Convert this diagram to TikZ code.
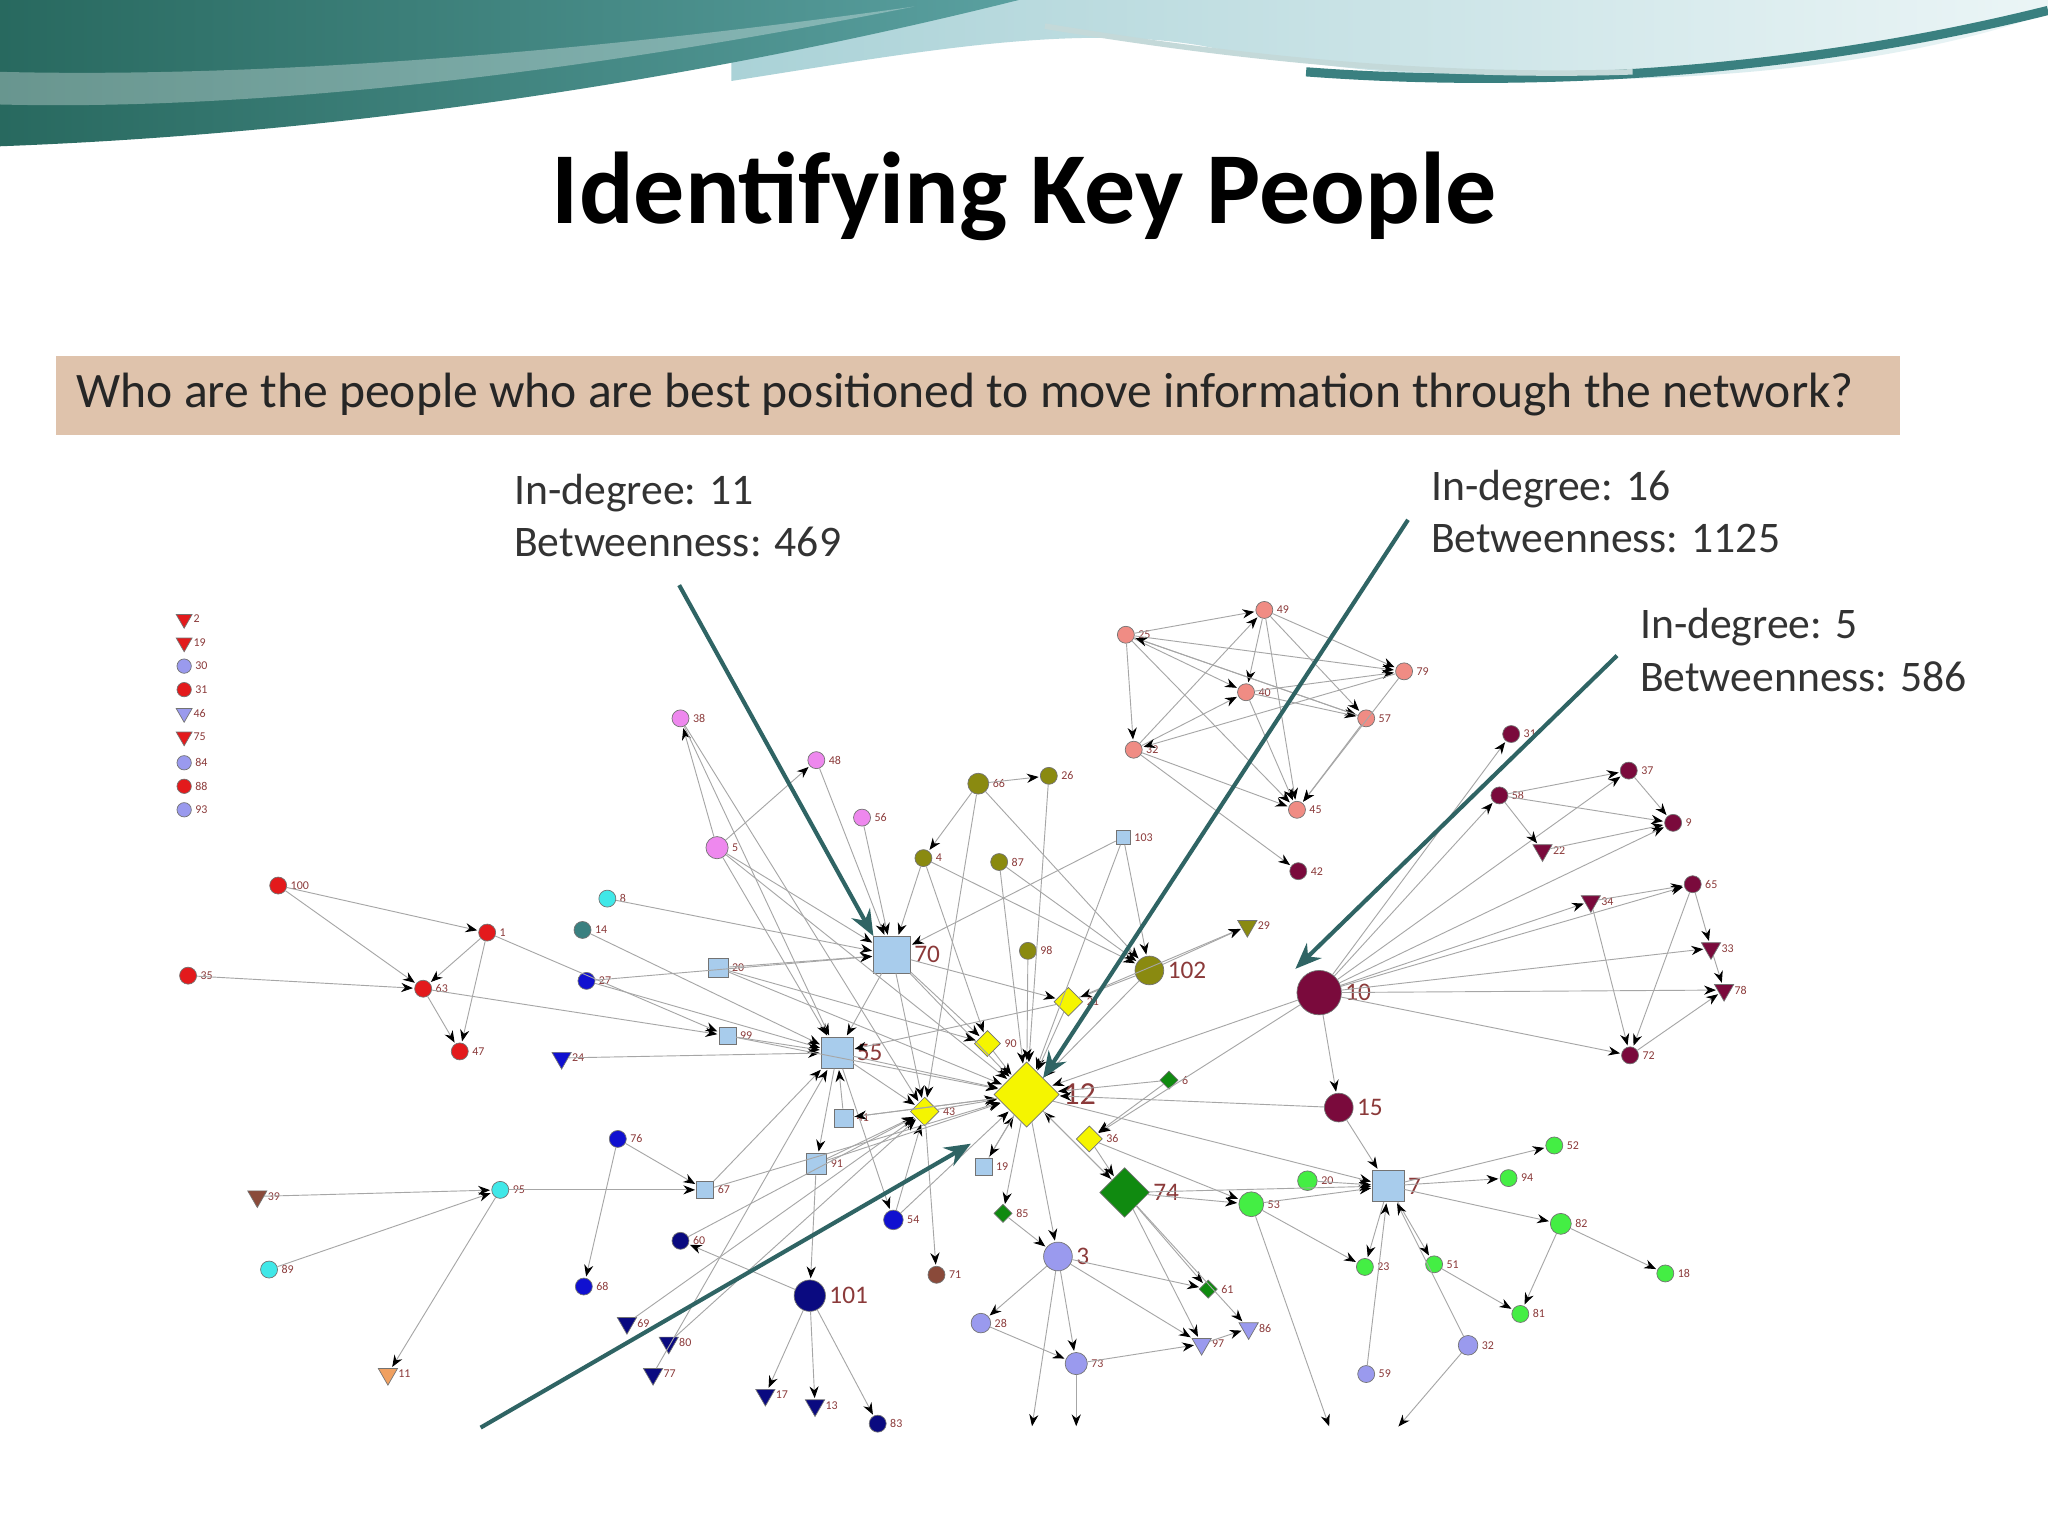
\documentclass[tikz,border=0pt]{standalone}
\usepackage{fontspec}
\setmainfont{Carlito}
\usetikzlibrary{arrows.meta,shapes.geometric}
\definecolor{redn}{HTML}{E31A1C}
\definecolor{salm}{HTML}{F08C84}
\definecolor{maro}{HTML}{7A0A3C}
\definecolor{pink}{HTML}{EE88EE}
\definecolor{oliv}{HTML}{8A8A10}
\definecolor{lblu}{HTML}{A8CCEC}
\definecolor{yell}{HTML}{F5F500}
\definecolor{dgrn}{HTML}{108A10}
\definecolor{lgrn}{HTML}{44EE44}
\definecolor{lav}{HTML}{9A9AEE}
\definecolor{blu}{HTML}{1010D0}
\definecolor{navy}{HTML}{0A0A80}
\definecolor{cyn}{HTML}{40E8E8}
\definecolor{tealn}{HTML}{3A8080}
\definecolor{brwn}{HTML}{8A4A3A}
\definecolor{orng}{HTML}{F0A060}
\definecolor{labc}{HTML}{8B3A3A}
\definecolor{annc}{HTML}{2F6464}
\definecolor{band}{HTML}{DFC3AC}
\tikzset{
 x=0.01cm,y=-0.01cm,
 base/.style={draw=black!55,line width=0.15pt,inner sep=0pt,minimum size=0.13cm},
 cir/.style={base,circle},
 sq/.style={base,rectangle},
 dia/.style={base,diamond},
 tri/.style={base,regular polygon,regular polygon sides=3,shape border rotate=180,minimum size=0.17cm},
 lab/.style={font=\fontsize{2.6}{3}\selectfont,text=labc,inner sep=0.6pt},
 labB/.style={font=\fontsize{5.5}{6}\selectfont,text=labc,inner sep=0.6pt},
 ed/.style={-{Stealth[length=0.09cm,width=0.07cm,color=black]},draw=black!35,line width=0.2pt,shorten >=0.3pt},
 ann/.style={-{Stealth[length=0.2cm,width=0.16cm]},draw=annc,line width=0.9pt},
 anntxt/.style={font=\fontsize{9.5}{11.5}\selectfont,text=black!80,align=left,anchor=north west,inner sep=0pt},
}
\begin{document}
\begin{tikzpicture}
\useasboundingbox (0,0) rectangle (1568,1176);
\fill[white] (0,0) rectangle (1568,1176);
% banner
\shade[left color={rgb,255:red,170;green,210;blue,215},right color={rgb,255:red,235;green,245;blue,246}] (560,0) -- (1568,0) -- (1568,10) .. controls (1400,70) and (1120,75) .. (920,35) .. controls (820,18) and (700,40) .. (560,62) -- cycle;
\shade[left color={rgb,255:red,40;green,105;blue,95},right color={rgb,255:red,90;green,160;blue,160}] (0,0) -- (780,0) .. controls (600,45) and (320,100) .. (0,112) -- cycle;
\fill[white,opacity=0.3] (0,55) .. controls (200,60) and (450,40) .. (700,5) .. controls (450,55) and (200,85) .. (0,80) -- cycle;
\draw[tealn,line width=2pt] (1000,55) .. controls (1200,70) and (1400,50) .. (1568,8);
\draw[white!70!tealn,line width=1.2pt] (800,20) .. controls (950,45) and (1100,60) .. (1250,55);
% title
\node[font=\bfseries\fontsize{22.2}{26}\selectfont] (title) at (784,150) {Identifying Key People};
\node[fill=band,minimum width=14.11cm,minimum height=0.6cm,anchor=north west,inner sep=0pt] (band) at (42,272) {};
\node[anchor=west,font=\fontsize{10.8}{12}\selectfont,text=black!85,inner sep=0pt] (q) at (58,302) {Who are the people who are best positioned to move information through the network?};
\node[anntxt] (t1) at (393,362) {In-degree: 11\\Betweenness: 469};
\node[anntxt] (t2) at (1095,359) {In-degree: 16\\Betweenness: 1125};
\node[anntxt] (t3) at (1255,465) {In-degree: 5\\Betweenness: 586};
% legend
\node[tri,fill=redn,minimum size=0.14cm,label={[lab]right:2}] (L1) at (141,474) {};
\node[tri,fill=redn,minimum size=0.14cm,label={[lab]right:19}] (L2) at (141,492) {};
\node[cir,fill=lav,minimum size=0.11cm,label={[lab]right:30}] (L3) at (141,510) {};
\node[cir,fill=redn,minimum size=0.11cm,label={[lab]right:31}] (L4) at (141,528) {};
\node[tri,fill=lav,minimum size=0.14cm,label={[lab]right:46}] (L5) at (141,546) {};
\node[tri,fill=redn,minimum size=0.14cm,label={[lab]right:75}] (L6) at (141,564) {};
\node[cir,fill=lav,minimum size=0.11cm,label={[lab]right:84}] (L7) at (141,584) {};
\node[cir,fill=redn,minimum size=0.11cm,label={[lab]right:88}] (L8) at (141,602) {};
\node[cir,fill=lav,minimum size=0.11cm,label={[lab]right:93}] (L9) at (141,620) {};
% nodes red
\node[cir,fill=redn,label={[lab]right:100}] (n100) at (213,678) {};
\node[cir,fill=redn,label={[lab]right:35}] (n35) at (144,747) {};
\node[cir,fill=redn,label={[lab]right:1}] (n1) at (373,714) {};
\node[cir,fill=redn,label={[lab]right:63}] (n63) at (324,757) {};
\node[cir,fill=redn,label={[lab]right:47}] (n47) at (352,805) {};
% salmon
\node[cir,fill=salm,label={[lab]right:25}] (n25) at (862,486) {};
\node[cir,fill=salm,label={[lab]right:49}] (n49) at (968,467) {};
\node[cir,fill=salm,label={[lab]right:79}] (n79) at (1075,514) {};
\node[cir,fill=salm,label={[lab]right:40}] (n40) at (954,530) {};
\node[cir,fill=salm,label={[lab]right:57}] (n57) at (1046,550) {};
\node[cir,fill=salm,label={[lab]right:32}] (n32a) at (868,574) {};
\node[cir,fill=salm,label={[lab]right:45}] (n45) at (993,620) {};
% maroon
\node[cir,fill=maro,label={[lab]right:31}] (n31) at (1157,562) {};
\node[cir,fill=maro,label={[lab]right:37}] (n37) at (1247,590) {};
\node[cir,fill=maro,label={[lab]right:58}] (n58) at (1148,609) {};
\node[cir,fill=maro,label={[lab]right:9}] (n9) at (1281,630) {};
\node[tri,fill=maro,label={[lab]right:22}] (n22) at (1181,651) {};
\node[cir,fill=maro,label={[lab]right:42}] (n42) at (994,667) {};
\node[cir,fill=maro,label={[lab]right:65}] (n65) at (1296,677) {};
\node[tri,fill=maro,label={[lab]right:34}] (n34) at (1218,690) {};
\node[tri,fill=maro,label={[lab]right:33}] (n33) at (1310,726) {};
\node[tri,fill=maro,label={[lab]right:78}] (n78) at (1320,758) {};
\node[cir,fill=maro,label={[lab]right:72}] (n72) at (1248,808) {};
\node[cir,fill=maro,minimum size=0.34cm,label={[labB]right:10}] (n10) at (1010,760) {};
\node[cir,fill=maro,minimum size=0.22cm,label={[labB]right:15}] (n15) at (1025,848) {};
% pink
\node[cir,fill=pink,label={[lab]right:38}] (n38) at (521,550) {};
\node[cir,fill=pink,label={[lab]right:48}] (n48) at (625,582) {};
\node[cir,fill=pink,label={[lab]right:56}] (n56) at (660,626) {};
\node[cir,fill=pink,minimum size=0.17cm,label={[lab]right:5}] (n5) at (549,649) {};
% olive
\node[cir,fill=oliv,minimum size=0.16cm,label={[lab]right:66}] (n66) at (749,600) {};
\node[cir,fill=oliv,label={[lab]right:26}] (n26) at (803,594) {};
\node[cir,fill=oliv,label={[lab]right:4}] (n4) at (707,657) {};
\node[cir,fill=oliv,label={[lab]right:87}] (n87) at (765,660) {};
\node[cir,fill=oliv,label={[lab]right:98}] (n98) at (787,728) {};
\node[cir,fill=oliv,minimum size=0.22cm,label={[labB]right:102}] (n102) at (880,743) {};
\node[tri,fill=oliv,label={[lab]right:29}] (n29) at (955,709) {};
% light blue squares
\node[sq,fill=lblu,minimum size=0.11cm,label={[lab]right:103}] (n103) at (860,641) {};
\node[sq,fill=lblu,minimum size=0.28cm,label={[labB]right:70}] (n70) at (683,731) {};
\node[sq,fill=lblu,minimum size=0.15cm,label={[lab]right:20}] (n20) at (550,741) {};
\node[sq,fill=lblu,minimum size=0.13cm,label={[lab]right:99}] (n99) at (557,793) {};
\node[sq,fill=lblu,minimum size=0.24cm,label={[labB]right:55}] (n55) at (641,806) {};
\node[sq,fill=lblu,minimum size=0.14cm,label={[lab]right:41}] (n41) at (646,856) {};
\node[sq,fill=lblu,minimum size=0.16cm,label={[lab]right:91}] (n91) at (625,891) {};
\node[sq,fill=lblu,minimum size=0.13cm,label={[lab]right:67}] (n67) at (540,911) {};
\node[sq,fill=lblu,minimum size=0.13cm,label={[lab]right:19}] (n19) at (753,893) {};
\node[sq,fill=lblu,minimum size=0.24cm,label={[labB]right:7}] (n7) at (1063,908) {};
% yellow diamonds
\node[dia,fill=yell,minimum size=0.22cm,label={[lab]right:21}] (n21) at (818,767) {};
\node[dia,fill=yell,minimum size=0.2cm,label={[lab]right:90}] (n90) at (756,799) {};
\node[dia,fill=yell,minimum size=0.5cm,label={[font=\fontsize{7}{8}\selectfont,text=labc,inner sep=0.6pt]right:12}] (n12) at (786,838) {};
\node[dia,fill=yell,minimum size=0.22cm,label={[lab]right:43}] (n43) at (708,851) {};
\node[dia,fill=yell,minimum size=0.2cm,label={[lab]right:36}] (n36) at (834,872) {};
% dark green
\node[dia,fill=dgrn,minimum size=0.14cm,label={[lab]right:6}] (n6) at (895,827) {};
\node[dia,fill=dgrn,minimum size=0.38cm,label={[labB]right:74}] (n74) at (861,913) {};
\node[dia,fill=dgrn,minimum size=0.14cm,label={[lab]right:85}] (n85) at (768,929) {};
\node[dia,fill=dgrn,minimum size=0.14cm,label={[lab]right:61}] (n61) at (925,987) {};
% light green
\node[cir,fill=lgrn,minimum size=0.19cm,label={[lab]right:53}] (n53) at (958,922) {};
\node[cir,fill=lgrn,minimum size=0.15cm,label={[lab]right:20}] (n20b) at (1001,904) {};
\node[cir,fill=lgrn,label={[lab]right:52}] (n52) at (1190,877) {};
\node[cir,fill=lgrn,label={[lab]right:94}] (n94) at (1155,902) {};
\node[cir,fill=lgrn,minimum size=0.16cm,label={[lab]right:82}] (n82) at (1195,937) {};
\node[cir,fill=lgrn,label={[lab]right:18}] (n18) at (1275,975) {};
\node[cir,fill=lgrn,label={[lab]right:81}] (n81) at (1164,1006) {};
\node[cir,fill=lgrn,label={[lab]right:23}] (n23) at (1045,970) {};
\node[cir,fill=lgrn,label={[lab]right:51}] (n51) at (1098,968) {};
% lavender
\node[cir,fill=lav,minimum size=0.22cm,label={[labB]right:3}] (n3) at (810,962) {};
\node[cir,fill=lav,minimum size=0.15cm,label={[lab]right:28}] (n28) at (751,1013) {};
\node[cir,fill=lav,minimum size=0.17cm,label={[lab]right:73}] (n73) at (824,1044) {};
\node[tri,fill=lav,label={[lab]right:97}] (n97) at (920,1029) {};
\node[tri,fill=lav,label={[lab]right:86}] (n86) at (956,1017) {};
\node[cir,fill=lav,label={[lab]right:59}] (n59) at (1046,1052) {};
\node[cir,fill=lav,minimum size=0.15cm,label={[lab]right:32}] (n32) at (1124,1030) {};
% blue
\node[cir,fill=blu,label={[lab]right:27}] (n27) at (449,751) {};
\node[tri,fill=blu,label={[lab]right:24}] (n24) at (430,810) {};
\node[cir,fill=blu,label={[lab]right:76}] (n76) at (473,872) {};
\node[cir,fill=blu,minimum size=0.15cm,label={[lab]right:54}] (n54) at (684,934) {};
\node[cir,fill=blu,label={[lab]right:68}] (n68) at (447,985) {};
% navy
\node[cir,fill=navy,label={[lab]right:60}] (n60) at (521,950) {};
\node[cir,fill=navy,minimum size=0.24cm,label={[labB]right:101}] (n101) at (620,992) {};
\node[tri,fill=navy,label={[lab]right:17}] (n17) at (586,1068) {};
\node[tri,fill=navy,label={[lab]right:13}] (n13) at (624,1076) {};
\node[cir,fill=navy,label={[lab]right:83}] (n83) at (672,1090) {};
\node[tri,fill=navy,label={[lab]right:69}] (n69) at (480,1013) {};
\node[tri,fill=navy,label={[lab]right:80}] (n80) at (512,1028) {};
\node[tri,fill=navy,label={[lab]right:77}] (n77) at (500,1052) {};
% misc
\node[cir,fill=cyn,label={[lab]right:8}] (n8) at (465,688) {};
\node[cir,fill=cyn,label={[lab]right:95}] (n95) at (383,911) {};
\node[cir,fill=cyn,label={[lab]right:89}] (n89) at (206,972) {};
\node[cir,fill=tealn,label={[lab]right:14}] (n14) at (446,712) {};
\node[cir,fill=brwn,label={[lab]right:71}] (n71) at (717,976) {};
\node[tri,fill=orng,label={[lab]right:11}] (n11) at (297,1052) {};
\node[tri,fill=brwn,label={[lab]right:39}] (n39) at (197,916) {};
\coordinate (b1) at (790,1093);
\coordinate (b2) at (824,1093);
\coordinate (b3) at (1018,1093);
\coordinate (b4) at (1070,1093);
% edges
\foreach \a/\b in {n100/n63,n35/n63,n1/n63,n63/n47,n1/n47,n100/n1,n63/n99,n1/n99,
 n89/n95,n95/n67,n95/n11,n39/n95,n8/n70,n14/n55,n27/n55,n24/n55,n76/n68,n76/n67,n27/n70,
 n5/n38,n5/n48,n5/n70,n5/n55,n38/n55,n48/n70,n56/n70,n5/n12,n38/n43,
 n66/n4,n66/n26,n26/n12,n4/n70,n87/n12,n98/n12,n66/n102,n4/n102,n87/n102,n102/n12,n66/n43,n4/n90,
 n102/n29,n21/n29,
 n25/n49,n25/n79,n25/n40,n25/n57,n25/n32a,n49/n79,n49/n40,n49/n57,n49/n45,n40/n79,n40/n57,n40/n45,
 n32a/n40,n32a/n49,n32a/n45,n57/n45,n79/n45,n79/n32a,n57/n25,n32a/n42,n25/n45,
 n10/n31,n10/n58,n10/n37,n10/n9,n10/n65,n10/n34,n10/n33,n10/n78,n10/n72,n10/n15,
 n58/n22,n58/n37,n37/n9,n22/n9,n65/n33,n34/n65,n34/n72,n72/n78,n65/n72,n33/n78,n58/n9,
 n10/n12,n15/n7,n15/n12,n10/n36,
 n20/n70,n20/n12,n99/n55,n55/n12,n70/n12,n70/n90,n70/n43,n41/n12,n91/n43,n67/n55,n19/n12,
 n103/n12,n103/n70,n103/n102,n55/n43,n99/n12,n41/n55,n91/n101,n67/n12,n20/n90,n70/n21,n102/n21,
 n74/n53,n53/n7,n7/n52,n7/n94,n7/n82,n7/n23,n7/n51,n82/n81,n82/n18,n51/n81,n74/n61,n74/n12,
 n6/n12,n74/n7,n20b/n7,n53/n23,n36/n74,n12/n74,n12/n7,n36/n53,n21/n12,n90/n12,n43/n12,
 n3/n28,n3/n73,n3/n97,n74/n97,n73/n97,n28/n73,n12/n3,n97/n86,n59/n7,n32/n7,n74/n86,n3/n61,
 n54/n12,n54/n43,n101/n60,n101/n17,n101/n13,n101/n83,n55/n54,n12/n85,n85/n3,n43/n71,n12/n19,n91/n12,
 n69/n43,n80/n43,n77/n55,n60/n43,
 n3/b1,n73/b2,n53/b3,n32/b4,n55/n91,n70/n55,n12/n41,n21/n55,n6/n36}
 \draw[ed] (\a) -- (\b);
% annotation arrows
\coordinate (a1) at (520,448);
\coordinate (a2) at (1078,398);
\coordinate (a3) at (1238,502);
\coordinate (a4) at (368,1093);
\draw[ann] (a1) -- (n70.north west);
\draw[ann] (a2) -- (n12.north east);
\draw[ann] (a3) -- ([xshift=-0.06cm,yshift=0.06cm]n10.north west);
\draw[ann] (a4) -- ([xshift=-0.3cm,yshift=-0.25cm]n12.south west);
\end{tikzpicture}
\end{document}
